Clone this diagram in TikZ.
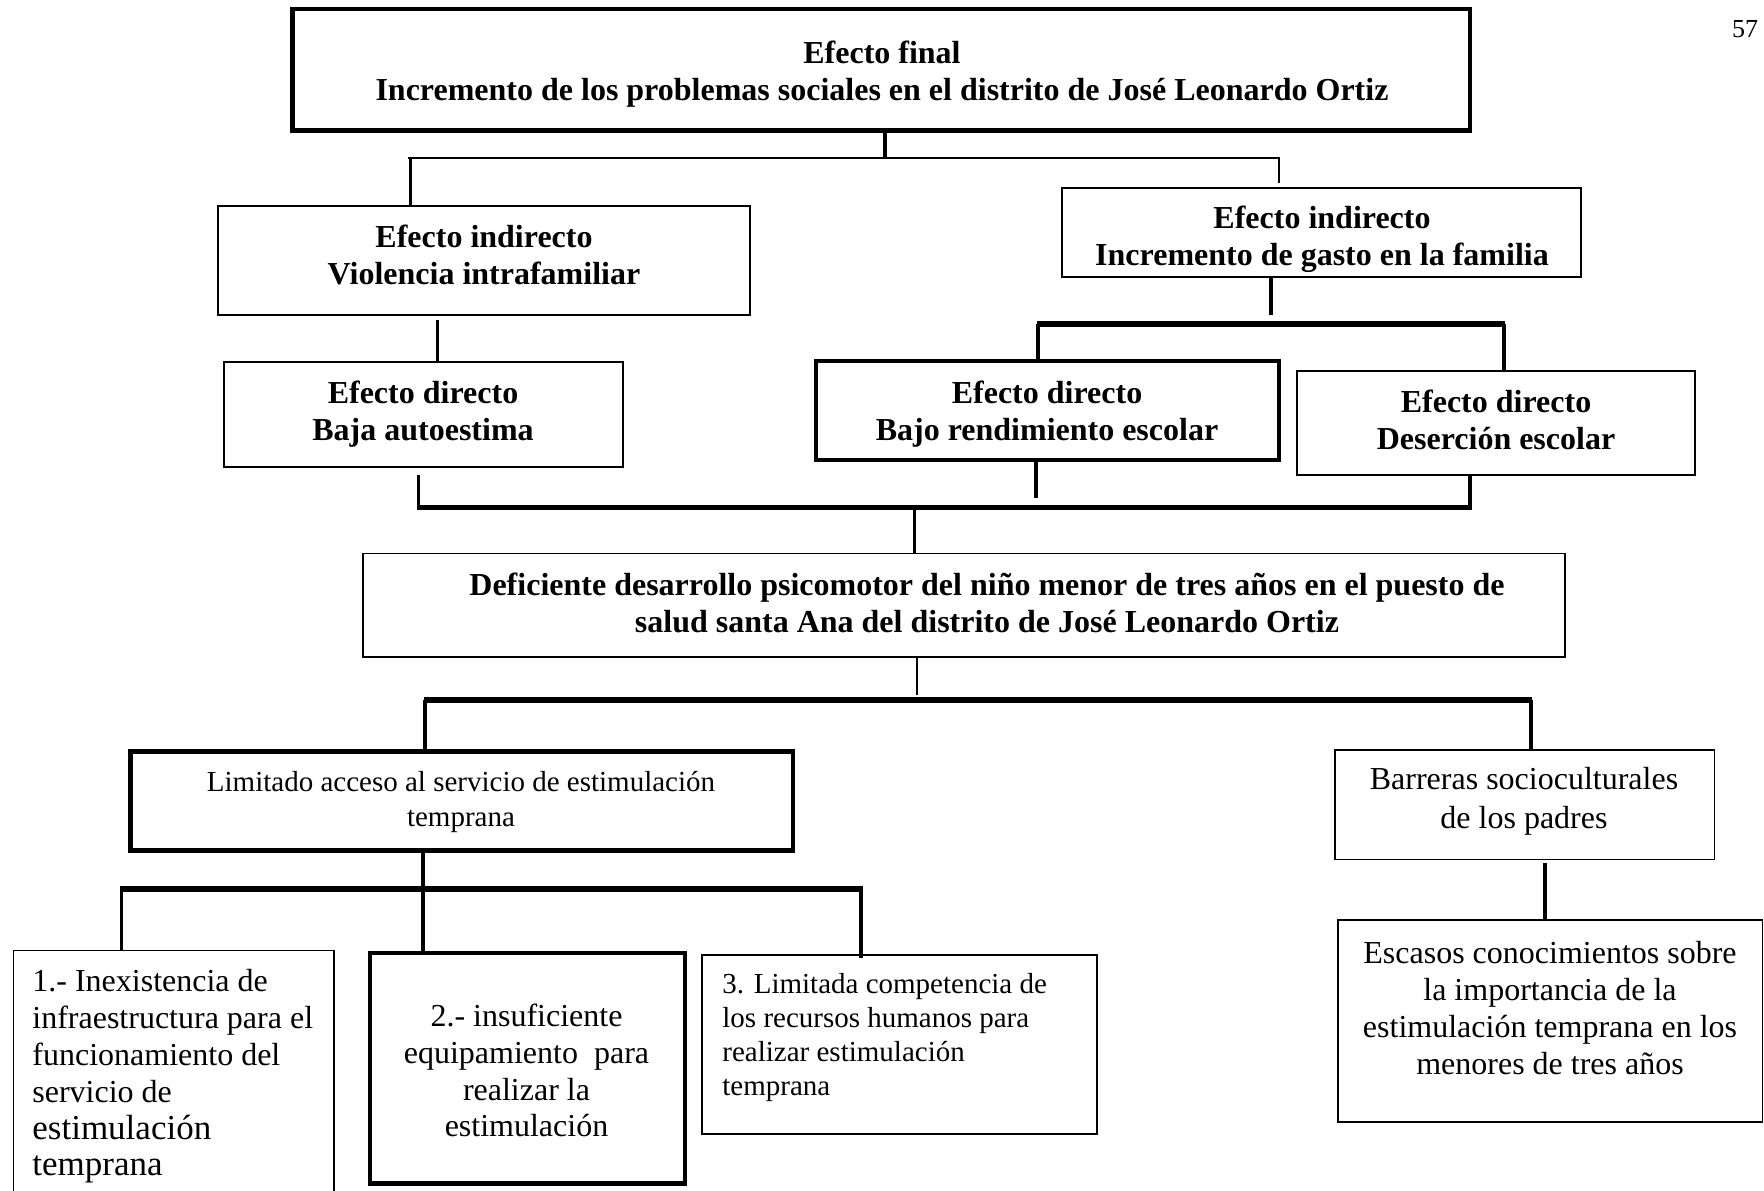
\documentclass[tikz,border=0pt]{standalone}
\usepackage{fontspec}
\setmainfont{Liberation Serif}
\begin{document}
\begin{tikzpicture}[x=0.5pt,y=-0.5pt,
  thinbox/.style={draw=black, line width=0.6pt, inner sep=0pt, rectangle},
  midbox/.style={draw=black, line width=0.9pt, inner sep=0pt, rectangle},
  thickbox/.style={draw=black, line width=2.25pt, inner sep=0pt, rectangle},
  bt/.style={font=\fontsize{16}{18.4}\selectfont\bfseries, align=center, inner sep=0pt},
  rt/.style={font=\fontsize{16}{18.4}\selectfont, align=center, inner sep=0pt},
  st/.style={font=\fontsize{14.5}{17}\selectfont, inner sep=0pt},
  cA/.style={line width=0.6pt},
  cB/.style={line width=1.0pt},
  cC/.style={line width=1.6pt},
  cD/.style={line width=2.2pt},
  cE/.style={line width=2.75pt}
]
\clip (0,0) rectangle (1764,1190);
\fill[white] (0,0) rectangle (1764,1190);

% ---------- boxes ----------
\node[thickbox, minimum width=588.75pt, minimum height=60.75pt] (top) at (881.25,69.75) {};
\node[thinbox, minimum width=266pt, minimum height=54.5pt] (eil) at (484,260.5) {};
\node[thinbox, minimum width=259.5pt, minimum height=44.5pt] (eir) at (1321.5,232.5) {};
\node[thinbox, minimum width=199.5pt, minimum height=52.5pt] (ed1) at (423.5,414.5) {};
\node[thickbox, minimum width=231.5pt, minimum height=49.5pt] (ed2) at (1047.5,410.5) {};
\node[thinbox, minimum width=199pt, minimum height=52pt] (ed3) at (1496,423) {};
\node[midbox, minimum width=601pt, minimum height=51.75pt] (main) at (964,605.25) {};
\node[thickbox, minimum width=331.25pt, minimum height=49.5pt] (lim) at (461.75,801) {};
\node[thinbox, minimum width=189.75pt, minimum height=54.75pt] (bar) at (1524.75,804.75) {};
\node[thinbox, minimum width=212.25pt, minimum height=101pt] (esc) at (1550.25,1021) {};
\node[thinbox, minimum width=160.25pt, minimum height=129.7pt] (b1) at (173.75,1080.3) {};
\node[thickbox, minimum width=157.5pt, minimum height=115.25pt] (b2) at (527.5,1068.25) {};
\node[thinbox, minimum width=197.5pt, minimum height=89.5pt] (b3) at (899.5,1044.5) {};

% ---------- texts ----------
\node[bt] (ttop) at (882,74) {Efecto final\\Incremento de los problemas sociales en el distrito de José Leonardo Ortiz};
\node[bt] (teil) at (484,255) {Efecto indirecto\\Violencia intrafamiliar};
\node[bt] (teir) at (1322,239.5) {Efecto indirecto\\Incremento de gasto en la familia};
\node[bt] (ted1) at (423,414.5) {Efecto directo\\Baja autoestima};
\node[bt] (ted2) at (1047,414.5) {Efecto directo\\Bajo rendimiento escolar};
\node[bt] (ted3) at (1496,420) {Efecto directo\\Deserción escolar};
\node[bt] (tmain) at (987,603) {Deficiente desarrollo psicomotor del niño menor de tres años en el puesto de\\salud santa Ana del distrito de José Leonardo Ortiz};
\node[st, align=center, font=\fontsize{14.5}{17.5}\selectfont] (tlim) at (461,801.5) {Limitado acceso al servicio de estimulación\\temprana};
\node[rt, font=\fontsize{16}{19.6}\selectfont] (tbar) at (1524,801.5) {Barreras socioculturales\\de los padres};
\node[rt] (tesc) at (1550,1008) {Escasos conocimientos sobre\\la importancia de la\\estimulación temprana en los\\menores de tres años};
\node[rt, align=left, anchor=west] (tb1) at (32,1076.5) {1.- Inexistencia de\\infraestructura para el\\funcionamiento del\\servicio de\\{\fontsize{17.5}{18.4}\selectfont estimulación}\\{\fontsize{17.5}{18.4}\selectfont temprana}};
\node[rt] (tb2) at (526.5,1070.5) {2.- insuficiente\\equipamiento\ \ para\\realizar la\\estimulación};
\node[st, align=left, anchor=west] (tb3) at (722,1037) {3. Limitada competencia de\\los recursos humanos para\\realizar estimulación\\temprana};
\node[font=\fontsize{13}{15}\selectfont, inner sep=0pt] (pg) at (1745,29) {57};

% ---------- junction coordinates ----------
\coordinate (j0) at (885,157.5);
\coordinate (h1l) at (408,157.5);
\coordinate (h1r) at (1280,157.5);
\coordinate (v1l) at (410.5,157.5);
\coordinate (v1r) at (1279,157.5);
\coordinate (v1re) at (1279,183);
\coordinate (e1s) at (437.5,320);
\coordinate (f1) at (1271,315);
\coordinate (h2l) at (1037,324);
\coordinate (h2r) at (1505,324);
\coordinate (v2l) at (1038,324);
\coordinate (v2r) at (1504,324);
\coordinate (k1s) at (418.5,475);
\coordinate (k1e) at (418.5,508);
\coordinate (k2e) at (1036,498);
\coordinate (k3e) at (1470,508);
\coordinate (h3l) at (417,507.5);
\coordinate (h3r) at (1471.5,507.5);
\coordinate (n1) at (914.5,507.5);
\coordinate (o1) at (917,695);
\coordinate (h4l) at (424,700);
\coordinate (h4r) at (1532,700);
\coordinate (q1) at (425,700);
\coordinate (r1) at (1531,700);
\coordinate (s1) at (1545,863);
\coordinate (t1) at (423,889);
\coordinate (h5l) at (120,889);
\coordinate (h5r) at (862.5,889);
\coordinate (u1) at (121.5,889);
\coordinate (u1e) at (121.5,950);
\coordinate (w1) at (861,889);
\coordinate (w1e) at (861,958);

% ---------- connectors ----------
\draw[cC] (top.south -| j0) -- (j0);
\draw[cB] (h1l) -- (h1r);
\draw[cC] (v1l) -- (eil.north -| v1l);
\draw[cA] (v1r) -- (v1re);
\draw[cC] (e1s) -- (ed1.north -| e1s);
\draw[cC] (eir.south -| f1) -- (f1);
\draw[cE] (h2l) -- (h2r);
\draw[cC] (v2l) -- (ed2.north -| v2l);
\draw[cC] (v2r) -- (ed3.north -| v2r);
\draw[cC] (k1s) -- (k1e);
\draw[cC] (ed2.south -| k2e) -- (k2e);
\draw[cC] (ed3.south -| k3e) -- (k3e);
\draw[cE] (h3l) -- (h3r);
\draw[cC] (n1) -- (main.north -| n1);
\draw[cA] (main.south -| o1) -- (o1);
\draw[cE] (h4l) -- (h4r);
\draw[cC] (q1) -- (lim.north -| q1);
\draw[cC] (r1) -- (bar.north -| r1);
\draw[cD] (s1) -- (esc.north -| s1);
\draw[cC] (lim.south -| t1) -- (b2.north -| t1);
\draw[cE] (h5l) -- (h5r);
\draw[cC] (u1) -- (u1e);
\draw[cC] (w1) -- (w1e);
\end{tikzpicture}
\end{document}
